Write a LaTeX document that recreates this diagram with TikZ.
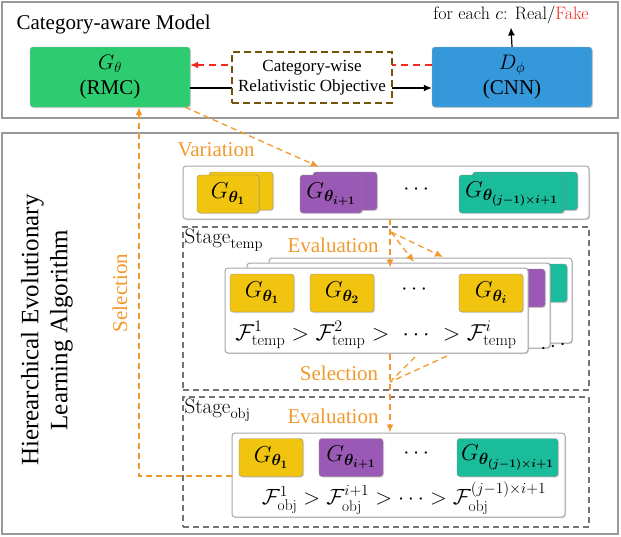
\documentclass[tikz,border=0pt]{standalone}
\usepackage{fix-cm}
\usepackage{amsmath}
\usepackage{bm}
\usepackage{fontspec}
\usetikzlibrary{arrows.meta,shadows}
\newfontfamily\tms{Liberation Serif}
\definecolor{rmcgreen}{RGB}{46,204,113}
\definecolor{cnnblue}{RGB}{52,152,219}
\definecolor{gyellow}{RGB}{241,196,15}
\definecolor{gpurple}{RGB}{155,89,182}
\definecolor{gteal}{RGB}{26,188,156}
\definecolor{evoorange}{RGB}{242,153,45}
\definecolor{objbrown}{RGB}{115,85,10}
\definecolor{fakered}{RGB}{245,40,30}
\begin{document}
\begin{tikzpicture}
    [
    x=1pt, y=-1pt,
    panel/.style={draw=black!40, line width=2.4pt},
    model/.style={rectangle, rounded corners=3pt, draw=black!35, minimum width=160pt, minimum height=60pt, align=center, font={\tms\fontsize{21}{25}\selectfont}, drop shadow={shadow xshift=1pt, shadow yshift=-1pt, opacity=0.35}},
    objective/.style={rectangle, draw=objbrown, line width=1.4pt, dash pattern=on 7pt off 4pt, fill=white, minimum width=160pt, minimum height=51pt, align=center, font={\tms\fontsize{17}{20}\selectfont}},
    stagebox/.style={rectangle, draw=black!55, line width=1.3pt, dash pattern=on 6pt off 4pt, minimum width=406pt},
    popbox/.style={rectangle, rounded corners=3pt, draw=black!35, line width=1pt, fill=white, drop shadow={shadow xshift=1pt, shadow yshift=-1pt, opacity=0.3}},
    gen/.style={rectangle, rounded corners=3pt, draw=black!45, minimum width=64pt, minimum height=38pt, inner sep=1pt, font=\fontsize{23}{25}\selectfont, drop shadow={shadow xshift=1pt, shadow yshift=-1pt, opacity=0.3}},
    more/.style={font=\fontsize{22}{24}\selectfont},
    evolabel/.style={text=evoorange, font={\tms\fontsize{21}{23}\selectfont}},
    stagelabel/.style={anchor=north west, inner sep=2pt, font=\fontsize{21}{23}\selectfont},
    flow/.style={evoorange, line width=1.3pt, dash pattern=on 6pt off 4pt, -{Latex[length=8pt,width=7pt]}},
    fline/.style={evoorange, line width=1.3pt, dash pattern=on 6pt off 4pt}
    ]
    \useasboundingbox (0,0) rectangle (621,536);
    % category-aware model
    \draw [panel] (2,2) rectangle (618,118);
    \node (title) at (13,29) [anchor=base west, font={\tms\fontsize{21}{24}\selectfont}] {Category-aware Model};
    \node (G) at (110,77) [model, fill=rmcgreen] {$G_\theta$\\(RMC)};
    \node (D) at (512,77) [model, fill=cnnblue] {$D_\phi$\\(CNN)};
    \node (out) at (511,15) [font=\fontsize{18}{20}\selectfont] {for each $c$: Real/\textcolor{fakered}{Fake}};
    \draw [fakered, line width=1.3pt, dash pattern=on 7pt off 5pt, -{Latex[length=8pt,width=7pt]}] ([yshift=12pt]D.west) -- ([yshift=12pt]G.east);
    \draw [line width=1.2pt, -{Latex[length=8pt,width=7pt]}] ([yshift=-11pt]G.east) -- ([yshift=-11pt]D.west);
    \node (rel) at (312,77.5) [objective] {Category-wise\\Relativistic Objective};
    \draw [line width=1.2pt, -{Latex[length=8pt,width=7pt]}] (D.north) -- (out.south);

    % evolutionary algorithm
    \draw [panel] (2,133) rectangle (618,534);
    \node (hela) at (47,330) [rotate=90, align=center, font={\tms\fontsize{25}{29}\selectfont}] {Hierearchical Evolutionary\\Learning Algorithm};
    \node (pop) at (386,192.5) [popbox, minimum width=406pt, minimum height=53pt] {};
    \node (temp) at (386,308.5) [stagebox, minimum height=163pt] {};
    \node (objstage) at (386,462) [stagebox, minimum height=130pt] {};
    \node (templabel) at (temp.north west) [stagelabel] {$\mathrm{Stage}_{\mathrm{temp}}$};
    \node (objlabel) at (objstage.north west) [stagelabel] {$\mathrm{Stage}_{\mathrm{obj}}$};

    % population
    \node (p1back) at (241,191) [gen, fill=gyellow] {};
    \node (p1) at (228,194) [gen, fill=gyellow, minimum width=62pt] {$G_{\bm{\theta_1}}$};
    \node (p2back) at (345,191) [gen, fill=gpurple] {};
    \node (p2) at (331,194) [gen, fill=gpurple, minimum width=62pt] {$G_{\bm{\theta_{i+1}}}$};
    \node (pdots) at (418,190) [more] {$\cdots$};
    \node (p3back) at (525,191) [gen, fill=gteal, minimum width=105pt] {};
    \node (p3) at (511.5,194) [gen, fill=gteal, minimum width=105pt] {$G_{\bm{\theta_{(j-1)\times i+1}}}$};

    % stage temp
    \node (tback) at (420.5,300.5) [popbox, minimum width=303pt, minimum height=85pt] {};
    \node (tteal) at (535,283) [gen, fill=gteal] {};
    \node (tmid) at (398.5,305.5) [popbox, minimum width=303pt, minimum height=85pt] {};
    \node (tpurple) at (513,288) [gen, fill=gpurple] {};
    \node (tfront) at (376.5,310.5) [popbox, minimum width=303pt, minimum height=85pt] {};
    \node (t1) at (262,293) [gen, fill=gyellow] {$G_{\bm{\theta_1}}$};
    \node (t2) at (342,293) [gen, fill=gyellow] {$G_{\bm{\theta_2}}$};
    \node (tdots) at (416,290) [more] {$\cdots$};
    \node (ti) at (491,293) [gen, fill=gyellow] {$G_{\bm{\theta_i}}$};
    \node (tfit) at (376,335) [font=\fontsize{23}{25}\selectfont] {$\mathcal{F}^1_{\mathrm{temp}} > \mathcal{F}^2_{\mathrm{temp}} > \ \cdots\ > \mathcal{F}^i_{\mathrm{temp}}$};
    \node (tmore) at (555,347) [more, rotate=12] {$\cdots$};

    % stage obj
    \node (ob) at (398.5,475) [popbox, minimum width=333pt, minimum height=84pt] {};
    \node (o1) at (271,457.5) [gen, fill=gyellow] {$G_{\bm{\theta_1}}$};
    \node (o2) at (351,457.5) [gen, fill=gpurple] {$G_{\bm{\theta_{i+1}}}$};
    \node (odots) at (418,454) [more] {$\cdots$};
    \node (o3) at (507.5,457.5) [gen, fill=gteal, minimum width=101pt] {$G_{\bm{\theta_{(j-1)\times i+1}}}$};
    \node (ofit) at (404,498) [font=\fontsize{22}{24}\selectfont] {$\mathcal{F}^1_{\mathrm{obj}} > \mathcal{F}^{i+1}_{\mathrm{obj}} > \cdots > \mathcal{F}^{(j-1)\times i+1}_{\mathrm{obj}}$};

    % evolution flow
    \node (var) at (216,150) [evolabel] {Variation};
    \node (teval) at (333,245) [evolabel] {Evaluation};
    \node (tsel) at (339,373) [evolabel] {Selection};
    \node (oeval) at (333,416) [evolabel] {Evaluation};
    \node (sel) at (120,293) [evolabel, rotate=90] {Selection};
    \coordinate (evtop) at (390,219);
    \coordinate (evfork) at (391,232);
    \coordinate (evmid) at (414,262);
    \coordinate (evback) at (443,257);
    \coordinate (selmid) at (415,357);
    \coordinate (selback) at (447,356);
    \coordinate (selfork) at (390,382);
    \coordinate (loop) at (139,476);
    \draw [flow] ([xshift=-5pt]G.south east) -- ([shift={(6pt,5pt)}]p2back.north west);
    \draw [flow] (evtop) -- (evtop |- tfront.north);
    \draw [flow] (evfork) -- (evmid);
    \draw [flow] (evfork) -- (evback);
    \draw [fline] (selmid) -- (selfork);
    \draw [fline] (selback) -- (selfork);
    \draw [flow] (tfront.south -| evtop) -- (ob.north -| evtop);
    \draw [flow] (ob.west |- loop) -- (loop) -- (loop |- G.south);
\end{tikzpicture}
\end{document}
